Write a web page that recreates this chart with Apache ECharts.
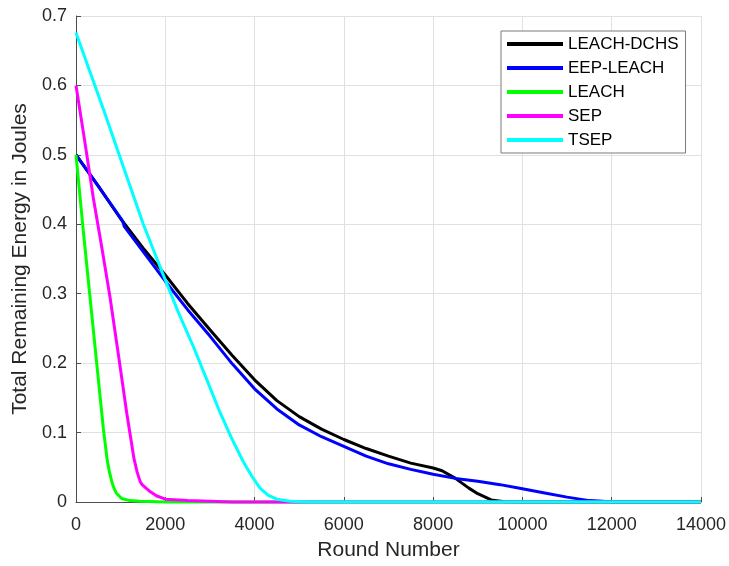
<!DOCTYPE html>
<html>
<head>
<meta charset="utf-8">
<script src="https://cdn.jsdelivr.net/npm/echarts@6/dist/echarts.min.js"></script>
<style>html,body{margin:0;padding:0;background:#fff}#c{width:729px;height:566px}</style>
</head>
<body>
<div id="c"></div>
<script>
// ---- data ----
const seriesNames = ['LEACH-DCHS', 'EEP-LEACH', 'LEACH', 'SEP', 'TSEP'];

const roundsDCHS = [0,500,1000,1500,2000,2500,3000,3500,4000,4500,5000,5500,6000,6500,7000,7500,8000,8200,8500,8800,9000,9300,9600,10000,14000];
const energyDCHS = [0.5,0.455,0.408,0.366,0.327,0.286,0.248,0.211,0.176,0.146,0.123,0.105,0.090,0.077,0.066,0.056,0.049,0.045,0.034,0.020,0.012,0.003,0.0005,0,0];

const roundsEEP = [0,500,1000,1050,1080,1500,2000,2500,3000,3500,4000,4500,5000,5500,6000,6500,7000,7500,8000,8500,9000,9500,10000,10500,11000,11500,11800,12000,14000];
const energyEEP = [0.5,0.455,0.409,0.404,0.397,0.361,0.318,0.277,0.239,0.199,0.163,0.134,0.111,0.094,0.080,0.066,0.055,0.047,0.040,0.034,0.030,0.025,0.019,0.013,0.007,0.002,0.001,0,0];

const roundsLEACH = [0,164,388,612,700,750,799,850,900,1023,1200,1434,2000,14000];
const energyLEACH = [0.5,0.39,0.248,0.106,0.060,0.043,0.030,0.020,0.013,0.005,0.002,0.001,0,0];

const roundsSEP = [0,200,388,580,762,950,1135,1300,1370,1434,1480,1550,1658,1800,2000,2500,3000,3500,14000];
const energySEP = [0.6,0.518,0.438,0.366,0.295,0.212,0.129,0.062,0.043,0.030,0.025,0.021,0.015,0.009,0.004,0.002,0.001,0,0];

const roundsTSEP = [0,300,612,1000,1508,2005,2300,2628,2900,3226,3500,3748,3950,4122,4300,4500,4800,5200,14000];
const energyTSEP = [0.676,0.622,0.566,0.494,0.400,0.319,0.272,0.224,0.181,0.129,0.090,0.058,0.036,0.020,0.010,0.004,0.001,0,0];

const xTickInterval = 2000, xMin = 0, xMax = 14000;
const yTickInterval = 0.1, yMin = 0, yMax = 0.7;

// ---- chart ----
const colors = ['#000000', '#0000ff', '#00ff00', '#ff00ff', '#00ffff'];
const rounds = [roundsDCHS, roundsEEP, roundsLEACH, roundsSEP, roundsTSEP];
const energies = [energyDCHS, energyEEP, energyLEACH, energySEP, energyTSEP];
const FONT = '"Liberation Sans", Arial, Helvetica, sans-serif';

const chart = echarts.init(document.getElementById('c'), null, {renderer: 'canvas'});
const axisCommon = {
  axisLine: {show: true, onZero: false, lineStyle: {color: '#4d4d4d', width: 1}},
  axisTick: {show: true, inside: true, length: 5, lineStyle: {color: '#4d4d4d'}},
  splitLine: {show: true, lineStyle: {color: '#e0e0e0', width: 1}},
  axisLabel: {color: '#262626', fontSize: 18, fontFamily: FONT},
  nameTextStyle: {color: '#262626', fontSize: 21, fontFamily: FONT}
};
chart.setOption({
  animation: false,
  backgroundColor: '#ffffff',
  grid: {left: 76, right: 28, top: 16, bottom: 58, containLabel: false},
  xAxis: Object.assign({}, axisCommon, {
    type: 'value', min: xMin, max: xMax, interval: xTickInterval,
    name: 'Round Number', nameLocation: 'middle', nameGap: 38,
    axisLabel: Object.assign({}, axisCommon.axisLabel, {margin: 14, formatter: v => String(v)})
  }),
  yAxis: Object.assign({}, axisCommon, {
    type: 'value', min: yMin, max: yMax, interval: yTickInterval,
    name: 'Total Remaining Energy in Joules', nameLocation: 'middle', nameGap: 42,
    axisLabel: Object.assign({}, axisCommon.axisLabel, {margin: 9, formatter: v => String(+v.toFixed(1))})
  }),
  legend: {
    orient: 'vertical', left: 501, top: 31,
    data: seriesNames,
    icon: 'rect', itemWidth: 56, itemHeight: 4, itemGap: 0, itemTextGap: 7,
    padding: [1, 7, 1, 6],
    borderColor: '#7a7a7a', borderWidth: 1, backgroundColor: '#ffffff',
    textStyle: {color: '#000', fontSize: 17, lineHeight: 24, fontFamily: FONT}
  },
  series: seriesNames.map((name, i) => ({
    name: name, type: 'line',
    data: rounds[i].map((r, k) => [r, energies[i][k]]),
    showSymbol: false, symbol: 'none',
    smooth: false,
    clip: false,
    itemStyle: {color: colors[i]},
    lineStyle: {color: colors[i], width: 3}
  }))
});
</script>
</body>
</html>
